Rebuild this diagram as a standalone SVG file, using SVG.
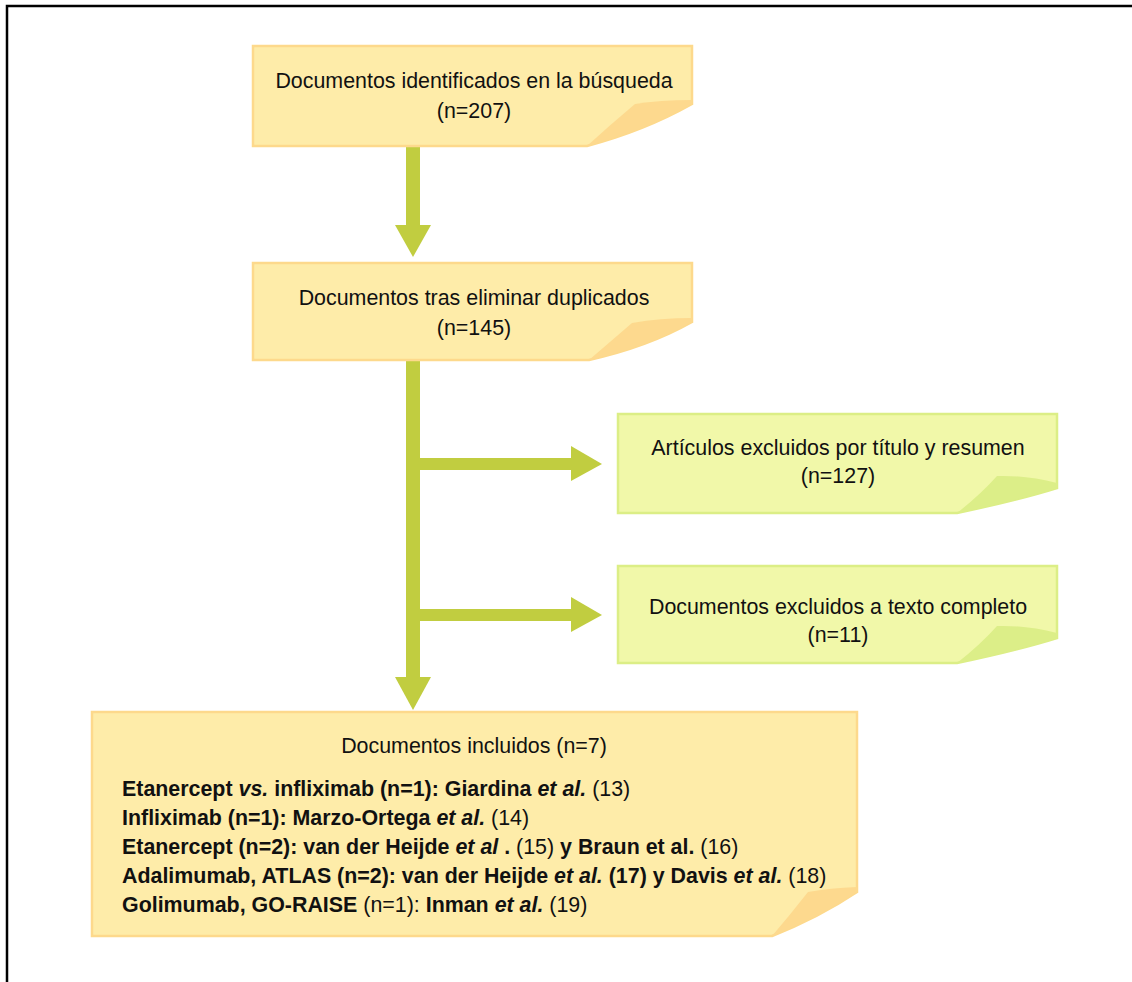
<svg xmlns="http://www.w3.org/2000/svg" width="1132" height="982" viewBox="0 0 1132 982">
<style>
.t{font-family:"Liberation Sans",Arial,sans-serif;font-size:21.4px;fill:#111}
.c{text-anchor:middle}
.b{font-weight:bold}
.i{font-style:italic}
.n{font-weight:normal;font-style:normal}
.ob{fill:#FEECA9;stroke:#FDD98C;stroke-width:2.5}
.of{fill:#FDD98E}
.gb{fill:#F1F8A9;stroke:#DCEE86;stroke-width:2.5}
.gf{fill:#DCEE88}
.ar{fill:#C1CD40}
</style>
<rect width="1132" height="982" fill="#fff"/>
<path d="M7,982 V6 H1132" fill="none" stroke="#000" stroke-width="2.5"/>

<g id="connectors">
<rect class="ar" x="406" y="146" width="14" height="80"/>
<polygon class="ar" points="395,225 431,225 413,257"/>
<rect class="ar" x="406" y="360" width="14" height="318"/>
<polygon class="ar" points="395,677 431,677 413,710"/>
<rect class="ar" x="420" y="458" width="152" height="12"/>
<polygon class="ar" points="571,446 571,481 602,464"/>
<rect class="ar" x="420" y="609" width="152" height="12"/>
<polygon class="ar" points="571,597 571,632 602,615"/>
</g>

<g id="n1">
<path class="ob" d="M253,46 H692 V104 C660,122 625,136 587,146 H253 Z"/>
<path class="of" d="M692,100 Q660,100 635,104 Q610,125 587,146 C625,136 660,122 692,104 Z"/>
<text class="t c" x="474" y="88">Documentos identificados en la búsqueda</text>
<text class="t c" x="474" y="118">(n=207)</text>
</g>

<g id="n2">
<path class="ob" d="M253,263 H692 V322 C660,340 625,352 589,360 H253 Z"/>
<path class="of" d="M692,318 Q660,318 632,323 Q610,342 589,360 C625,352 660,340 692,322 Z"/>
<text class="t c" x="474" y="305">Documentos tras eliminar duplicados</text>
<text class="t c" x="474" y="335">(n=145)</text>
</g>

<g id="n3">
<path class="gb" d="M618,414 H1057 V488 C1025,498 990,506 957,513 H618 Z"/>
<path class="gf" d="M1057,483 Q1025,475 997,476 Q980,495 957,513 C990,506 1025,498 1057,488 Z"/>
<text class="t c" x="838" y="455">Artículos excluidos por título y resumen</text>
<text class="t c" x="838" y="483">(n=127)</text>
</g>

<g id="n4">
<path class="gb" d="M618,566 H1057 V638 C1025,648 990,656 957,663 H618 Z"/>
<path class="gf" d="M1057,633 Q1025,625 997,626 Q980,645 957,663 C990,656 1025,648 1057,638 Z"/>
<text class="t c" x="838" y="614">Documentos excluidos a texto completo</text>
<text class="t c" x="838" y="642">(n=11)</text>
</g>

<g id="n5">
<path class="ob" d="M92,712 H857 V892 C830,910 800,925 772,936 H92 Z"/>
<path class="of" d="M857,887 Q830,888 808,892 Q790,915 772,936 C800,925 830,910 857,892 Z"/>
<text class="t c" x="474" y="753">Documentos incluidos (n=7)</text>
<text class="t b" x="122" y="796">Etanercept <tspan class="i">vs.</tspan> infliximab (n=1): Giardina <tspan class="i">et al.</tspan><tspan class="n"> (13)</tspan></text>
<text class="t b" x="122" y="825">Infliximab (n=1): Marzo-Ortega <tspan class="i">et al.</tspan><tspan class="n"> (14)</tspan></text>
<text class="t b" x="122" y="854">Etanercept (n=2): van der Heijde <tspan class="i">et al </tspan>. <tspan class="n">(15)</tspan> y Braun et al.<tspan class="n"> (16)</tspan></text>
<text class="t b" x="122" y="883">Adalimumab, ATLAS (n=2): van der Heijde <tspan class="i">et al.</tspan> (17) y Davis <tspan class="i">et al.</tspan><tspan class="n"> (18)</tspan></text>
<text class="t b" x="122" y="912">Golimumab, GO-RAISE <tspan class="n">(n=1):</tspan> Inman <tspan class="i">et al.</tspan><tspan class="n"> (19)</tspan></text>
</g>
</svg>
